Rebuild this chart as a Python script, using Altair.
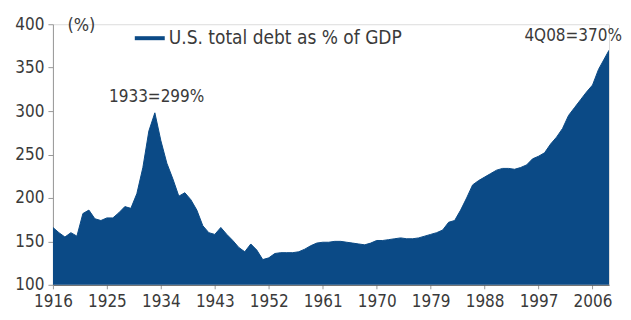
import altair as alt
import pandas as pd

years = list(range(1916, 2008)) + [2008.75]
values = [
    166, 160, 155, 160, 156, 182, 186, 176, 174, 177,   # 1916-1925
    177, 183, 190, 188, 205, 235, 277, 298, 266, 240,   # 1926-1935
    222, 202, 206, 198, 186, 168, 160, 158, 166, 158,   # 1936-1945
    151, 143, 138, 147, 140, 129, 131, 136, 137, 137,   # 1946-1955
    137, 138, 141, 145, 148, 149, 149, 150, 150, 149,   # 1956-1965
    148, 147, 146, 148, 151, 151, 152, 153, 154, 153,   # 1966-1975
    153, 154, 156, 158, 160, 163, 172, 174, 186, 200,   # 1976-1985
    215, 220, 224, 228, 232, 234, 234, 233, 235, 238,   # 1986-1995
    245, 248, 252, 262, 270, 280, 295, 304, 313, 322,   # 1996-2005
    330, 348, 370,                                      # 2006-4Q08
]
series_name = "U.S. total debt as % of GDP"
x_ticks = [1916, 1925, 1934, 1943, 1952, 1961, 1970, 1979, 1988, 1997, 2006]
y_ticks = [100, 150, 200, 250, 300, 350, 400]

note_labels = ["1933=299%", "4Q08=370%"]
note_years = [1933.3, 2008.75]
note_values = [299, 370]

FILL = "#0b4a86"
TEXT = "#3a3a3a"
FONT = "DejaVu Sans Condensed, Liberation Sans Narrow, Arial Narrow, sans-serif"

df = pd.DataFrame({"year": years, "value": values, "series": series_name})
notes = pd.DataFrame({"label": note_labels, "year": note_years, "value": note_values})

xscale = alt.Scale(domain=[1916, 2008.75], nice=False, zero=False)
yscale = alt.Scale(domain=[100, 400], nice=False, zero=False)

xaxis = alt.Axis(values=x_ticks, format="d", title=None, grid=False,
                 labelFont=FONT, labelFontSize=17, labelColor=TEXT,
                 labelPadding=5, tickSize=4, tickColor="#999999",
                 domainColor="#555555", labelFlush=False)
yaxis = alt.Axis(values=y_ticks, title="(%)", grid=False,
                 labelFont=FONT, labelFontSize=17, labelColor=TEXT,
                 labelPadding=4, tickSize=5, tickColor="#999999",
                 domainColor="#999999",
                 titleAngle=0, titleAlign="left", titleBaseline="middle",
                 titleX=14, titleY=1, titleFont=FONT, titleFontSize=18,
                 titleFontWeight="normal", titleColor=TEXT)

area = alt.Chart(df).mark_area(color=FILL, interpolate="linear", clip=True).encode(
    x=alt.X("year:Q", scale=xscale, axis=xaxis),
    y=alt.Y("value:Q", scale=yscale, axis=yaxis),
)

line = alt.Chart(df).mark_line(strokeWidth=1, clip=True).encode(
    x=alt.X("year:Q", scale=xscale),
    y=alt.Y("value:Q", scale=yscale),
    color=alt.Color("series:N", scale=alt.Scale(range=[FILL]),
                    legend=alt.Legend(title=None, orient="none", legendX=80, legendY=-3,
                                      symbolType="stroke", symbolSize=900,
                                      symbolStrokeWidth=4, labelFont=FONT,
                                      labelFontSize=19, labelColor=TEXT,
                                      labelLimit=400, labelOffset=2)),
)

text1 = alt.Chart(notes.iloc[[0]]).mark_text(
    font=FONT, fontSize=17, color=TEXT, align="center", baseline="bottom", dy=-6
).encode(x=alt.X("year:Q", scale=xscale), y=alt.Y("value:Q", scale=yscale), text="label:N")

text2 = alt.Chart(notes.iloc[[1]]).mark_text(
    font=FONT, fontSize=17, color=TEXT, align="right", baseline="bottom", dx=13, dy=-5
).encode(x=alt.X("year:Q", scale=xscale), y=alt.Y("value:Q", scale=yscale), text="label:N")

chart = alt.layer(area, line, text1, text2).properties(
    width=557, height=261,
    autosize=alt.AutoSizeParams(type="none"),
    padding={"left": 45, "top": 16, "right": 14, "bottom": 27},
).configure_view(stroke=None).configure(background="white")

chart.save("out.html", embed_options={"renderer": "svg", "actions": False})
